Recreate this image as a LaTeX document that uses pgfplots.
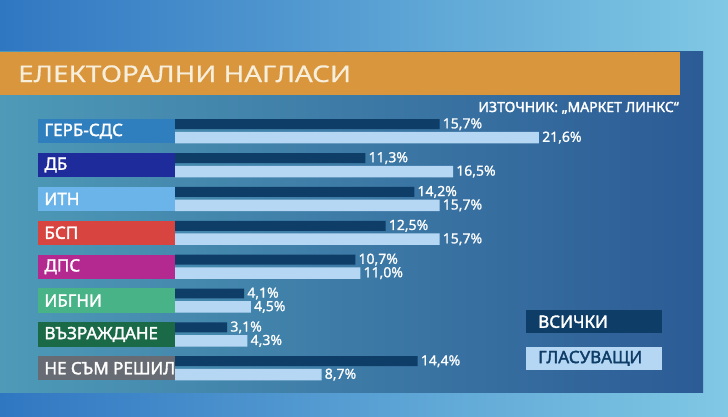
\documentclass[border=0pt]{standalone}
\usepackage{fontspec}
\setmainfont{Noto Sans}[Script=Cyrillic,Language=Bulgarian,BoldFont={Noto Sans},BoldFeatures={FakeBold=2}]
\newfontfamily\titlefont{Noto Sans}[Script=Cyrillic,Language=Bulgarian,FakeStretch=1.21,FakeBold=0.6]
\newfontfamily\valfont{Noto Sans}[Script=Cyrillic,Language=Bulgarian,FakeBold=1]
\usepackage{pgfplots}
\pgfplotsset{compat=1.18}
\definecolor{bgL}{HTML}{3077C2}
\definecolor{bgR}{HTML}{80C8E4}
\definecolor{panL}{HTML}{4E9AB7}
\definecolor{panR}{HTML}{2C5B95}
\definecolor{orangeC}{HTML}{D9963C}
\definecolor{titleC}{HTML}{F7EEDC}
\definecolor{darkC}{HTML}{0E3D68}
\definecolor{lightC}{HTML}{B6D7F3}
\definecolor{cGERB}{HTML}{2F7FBF}
\definecolor{cDB}{HTML}{1E2B9A}
\definecolor{cITN}{HTML}{6AB4EA}
\definecolor{cBSP}{HTML}{D8443F}
\definecolor{cDPS}{HTML}{B4298F}
\definecolor{cIBG}{HTML}{48B386}
\definecolor{cVAZ}{HTML}{1A6A48}
\definecolor{cNE}{HTML}{676B73}
\newcommand\lab[2]{{\setlength\fboxsep{0pt}\colorbox{#1}{\parbox[c][24.3pt][c]{137.7pt}{\hspace*{7pt}\color{white}\fontsize{17}{17}\selectfont\bfseries #2}}}}
\begin{document}
\begin{tikzpicture}
\useasboundingbox (0,0) rectangle (728pt,416pt);
\shade[left color=bgL, right color=bgR] (0,0) rectangle (728pt,416pt);
\shade[left color=panL, right color=panR] (0,24pt) rectangle (703pt,364pt);
\fill[orangeC] (0,321pt) rectangle (680pt,364pt);
\node[anchor=base west, inner sep=0, text=titleC, font=\titlefont\fontsize{23}{23}\selectfont] at (18pt,334pt) {ЕЛЕКТОРАЛНИ НАГЛАСИ};
\node[anchor=base east, inner sep=0, text=white, font=\fontsize{14}{14}\selectfont\bfseries] at (679pt,304pt) {ИЗТОЧНИК: „МАРКЕТ ЛИНКС“};
\fill[darkC] (526pt,82.7pt) rectangle (662pt,106pt);
\fill[lightC] (526pt,46pt) rectangle (662pt,69.3pt);
\node[anchor=west, inner sep=0, text=white, font=\fontsize{17}{17}\selectfont\bfseries] at (538pt,94.3pt) {ВСИЧКИ};
\node[anchor=west, inner sep=0, text=darkC, font=\fontsize{17}{17}\selectfont\bfseries] at (538pt,57.7pt) {ГЛАСУВАЩИ};
\begin{axis}[
  at={(0,0)}, anchor=south west,
  scale only axis, width=728pt, height=416pt,
  xmin=-10.386, xmax=32.819, ymin=-3.875, ymax=8.411,
  y dir=reverse,
  axis line style={draw=none},
  major tick length=0pt,
  xtick=\empty,
  ytick={0,1,2,3,4,5,6,7},
  yticklabels={\lab{cGERB}{ГЕРБ-СДС},\lab{cDB}{ДБ},\lab{cITN}{ИТН},\lab{cBSP}{БСП},\lab{cDPS}{ДПС},\lab{cIBG}{ИБГНИ},\lab{cVAZ}{ВЪЗРАЖДАНЕ},\lab{cNE}{НЕ СЪМ РЕШИЛ}},
  yticklabel style={anchor=west, inner sep=0pt, xshift=37.3pt},
  xbar,
  point meta=x,
  nodes near coords={\pgfmathprintnumber[fixed,fixed zerofill,precision=1,use comma,assume math mode=true]{\pgfplotspointmeta}\%},
  nodes near coords style={anchor=west, text=white, inner xsep=3pt, font=\valfont\fontsize{14}{14}\selectfont},
  clip=false,
]
\addplot[fill=darkC, draw=none, bar width=0.295, bar shift=-0.207] coordinates {
(15.7,0) (11.3,1) (14.2,2) (12.5,3) (10.7,4) (4.1,5) (3.1,6) (14.4,7)};
\addplot[fill=lightC, draw=none, bar width=0.34, bar shift=0.19] coordinates {
(21.6,0) (16.5,1) (15.7,2) (15.7,3) (11.0,4) (4.5,5) (4.3,6) (8.7,7)};
\end{axis}
\end{tikzpicture}
\end{document}
